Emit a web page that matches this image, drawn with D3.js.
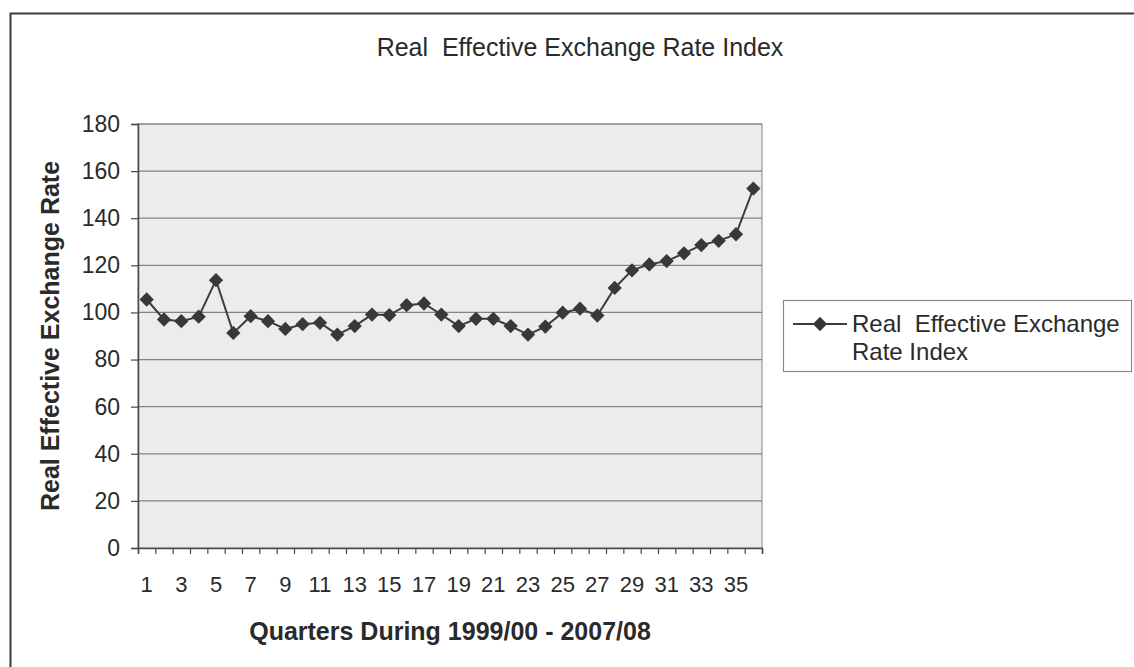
<!DOCTYPE html>
<html>
<head>
<meta charset="utf-8">
<script src="https://cdn.jsdelivr.net/npm/d3@7"></script>
<style>
  html, body { margin: 0; padding: 0; background: #fff; }
  svg { display: block; font-family: "Liberation Sans", Arial, sans-serif; }
</style>
</head>
<body>
<svg id="chart" width="1134" height="667"></svg>
<script>
// Quarterly Real Effective Exchange Rate index, 1999/00 - 2007/08
const quarters = [1, 2, 3, 4, 5, 6, 7, 8, 9, 10, 11, 12, 13, 14, 15, 16, 17, 18,
                  19, 20, 21, 22, 23, 24, 25, 26, 27, 28, 29, 30, 31, 32, 33, 34, 35, 36];
const reerIndex = [105.5, 97.0, 96.3, 98.2, 113.7, 91.3, 98.4, 96.3, 93.0, 95.0, 95.6, 90.6,
                   94.2, 99.1, 98.9, 103.1, 103.8, 99.1, 94.2, 97.3, 97.3, 94.2, 90.6, 94.0,
                   99.9, 101.6, 98.7, 110.4, 117.9, 120.4, 121.8, 125.1, 128.6, 130.4, 133.2, 152.6];
const yTicks = [0, 20, 40, 60, 80, 100, 120, 140, 160, 180];
const xTickLabels = [1, 3, 5, 7, 9, 11, 13, 15, 17, 19, 21, 23, 25, 27, 29, 31, 33, 35];

const chartTitle = "Real  Effective Exchange Rate Index";
const xTitle = "Quarters During 1999/00 - 2007/08";
const yTitle = "Real Effective Exchange Rate";
const legendLines = ["Real  Effective Exchange", "Rate Index"];

const svg = d3.select("#chart");
const plot = { left: 138, right: 762, top: 124, bottom: 548 };

// Outer chart frame (runs past the right and bottom edges of the page)
svg.append("rect")
  .attr("x", 10.5).attr("y", 13.5)
  .attr("width", 1200).attr("height", 700)
  .attr("fill", "none").attr("stroke", "#3a3a3a").attr("stroke-width", 2);

const x = d3.scaleBand().domain(quarters).range([plot.left, plot.right]).padding(0);
const xEdge = d3.scaleLinear().domain([0, quarters.length]).range([plot.left, plot.right]);
const y = d3.scaleLinear().domain([0, 180]).range([plot.bottom, plot.top]);

// Plot area
svg.append("rect")
  .attr("x", plot.left).attr("y", plot.top)
  .attr("width", plot.right - plot.left).attr("height", plot.bottom - plot.top)
  .attr("fill", "#ececec").attr("stroke", "#9a9a9a").attr("stroke-width", 1.2);

// Horizontal gridlines
svg.append("g")
  .selectAll("line")
  .data(yTicks.filter(d => d > 0))
  .join("line")
  .attr("x1", plot.left).attr("x2", plot.right)
  .attr("y1", d => y(d)).attr("y2", d => y(d))
  .attr("stroke", "#828282").attr("stroke-width", 1.2);

// Y axis
const yAxis = svg.append("g")
  .attr("transform", `translate(${plot.left},0)`)
  .call(d3.axisLeft(y).tickValues(yTicks).tickSize(7).tickPadding(11));
yAxis.select(".domain").attr("stroke", "#4a4a4a").attr("stroke-width", 1.5);
yAxis.selectAll(".tick line").attr("stroke", "#4a4a4a").attr("stroke-width", 1.2);
yAxis.selectAll("text").attr("font-size", 23).attr("fill", "#2a2a2a")
  .attr("font-family", "Liberation Sans, Arial, sans-serif");

// X axis: tick marks at category boundaries
const xAxisTicks = svg.append("g")
  .attr("transform", `translate(0,${plot.bottom})`)
  .call(d3.axisBottom(xEdge).tickValues(d3.range(quarters.length + 1)).tickSize(6).tickFormat(""));
xAxisTicks.select(".domain").attr("stroke", "#4a4a4a").attr("stroke-width", 1.5);
xAxisTicks.selectAll(".tick line").attr("stroke", "#4a4a4a").attr("stroke-width", 1.2);

// X axis: labels at every other quarter
const xAxisLabels = svg.append("g")
  .attr("transform", `translate(0,${plot.bottom})`)
  .call(d3.axisBottom(x).tickValues(xTickLabels).tickSize(0).tickPadding(28));
xAxisLabels.select(".domain").remove();
xAxisLabels.selectAll("text").attr("font-size", 22).attr("fill", "#2a2a2a")
  .attr("font-family", "Liberation Sans, Arial, sans-serif");

// Series line and diamond markers
const cx = d => x(d) + x.bandwidth() / 2;
const pts = quarters.map((q, i) => ({ q, v: reerIndex[i] }));

svg.append("path")
  .datum(pts)
  .attr("fill", "none")
  .attr("stroke", "#3c3c3c")
  .attr("stroke-width", 2)
  .attr("d", d3.line().x(d => cx(d.q)).y(d => y(d.v)));

const diamond = d3.symbol().type(d3.symbolDiamond2).size(130);
svg.append("g")
  .selectAll("path")
  .data(pts)
  .join("path")
  .attr("d", diamond)
  .attr("transform", d => `translate(${cx(d.q)},${y(d.v)})`)
  .attr("fill", "#383838");

// Titles
svg.append("text")
  .attr("x", 580).attr("y", 56)
  .attr("text-anchor", "middle")
  .attr("font-size", 25).attr("fill", "#2a2a2a")
  .style("white-space", "pre")
  .text(chartTitle);

svg.append("text")
  .attr("x", (plot.left + plot.right) / 2).attr("y", 640)
  .attr("text-anchor", "middle")
  .attr("font-size", 25).attr("font-weight", "bold").attr("fill", "#2a2a2a")
  .text(xTitle);

svg.append("text")
  .attr("transform", `translate(59,${(plot.top + plot.bottom) / 2}) rotate(-90)`)
  .attr("text-anchor", "middle")
  .attr("font-size", 25).attr("font-weight", "bold").attr("fill", "#2a2a2a")
  .text(yTitle);

// Legend
const legend = svg.append("g");
legend.append("rect")
  .attr("x", 783.5).attr("y", 300.5).attr("width", 348).attr("height", 71)
  .attr("fill", "#fff").attr("stroke", "#8a8a8a").attr("stroke-width", 1.2);
legend.append("line")
  .attr("x1", 793).attr("x2", 847).attr("y1", 324).attr("y2", 324)
  .attr("stroke", "#3c3c3c").attr("stroke-width", 2);
legend.append("path")
  .attr("d", diamond)
  .attr("transform", "translate(820,324)")
  .attr("fill", "#383838");
legend.selectAll("text.leg")
  .data(legendLines)
  .join("text")
  .attr("class", "leg")
  .attr("x", 852)
  .attr("y", (d, i) => 332 + i * 28)
  .attr("font-size", 24).attr("fill", "#2a2a2a")
  .style("white-space", "pre")
  .text(d => d);
</script>
</body>
</html>
